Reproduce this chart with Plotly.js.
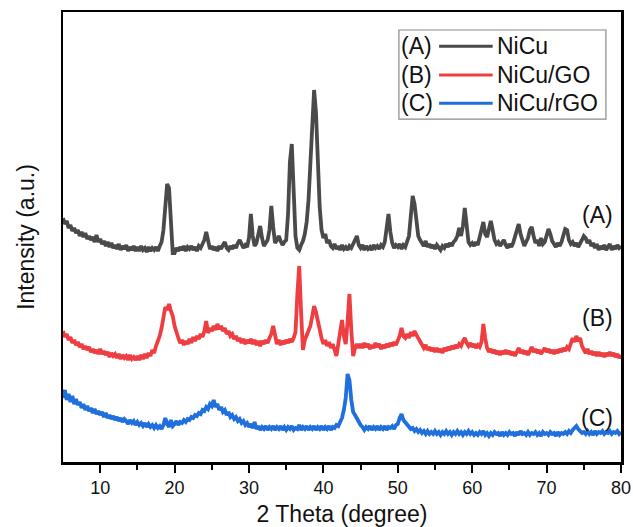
<!DOCTYPE html>
<html>
<head>
<meta charset="utf-8">
<script src="https://cdn.plot.ly/plotly-3.0.1.min.js"></script>
<style>html,body{margin:0;padding:0;background:#fff}#chart{width:633px;height:527px}</style>
</head>
<body>
<div id="chart"></div>
<script>
// 2-theta scan: 5 to 80 degrees, step 0.25 (301 points)
const THETA_START = 5;
const THETA_STEP = 0.25;

const seriesNames = ["NiCu", "NiCu/GO", "NiCu/rGO"];
const seriesTags = ["(A)", "(B)", "(C)"];

// Intensity (arbitrary units, stacked offsets included)
const nicu = [
244,238,241,234,237,231,234,229,232,226,230,225,229,223,226,222,225,220,227,220,
223,218,221,216,220,215,219,214,217,213,218,212,216,213,217,211,215,212,216,211,
215,211,216,212,214,210,215,211,214,212,215,211,216,220,232,252,278,274,240,209,
209,214,211,215,212,216,211,215,213,216,212,215,211,216,214,218,222,230,219,213,
216,212,215,211,216,213,217,220,214,212,216,213,217,214,219,222,218,214,217,215,
224,248,226,216,219,228,236,224,216,219,222,232,256,235,219,222,226,221,217,220,
222,248,300,318,258,226,214,212,217,221,228,240,262,300,345,372,350,295,255,232,
224,228,219,222,216,214,218,213,216,212,217,213,215,212,216,214,218,222,226,217,
214,217,212,216,213,215,212,217,214,216,213,217,215,220,232,248,230,219,214,217,
215,218,213,217,215,220,226,246,266,258,238,226,222,219,216,221,215,218,214,217,
213,217,215,212,216,214,218,215,219,216,220,222,226,234,226,236,254,234,220,217,
219,216,220,217,224,234,240,228,225,233,241,232,222,218,220,216,219,222,217,214,
218,215,219,226,234,238,228,220,216,220,224,232,235,226,219,222,216,224,218,220,
226,233,228,221,218,215,219,216,220,226,233,232,222,218,220,216,219,215,218,222,
226,224,219,222,216,219,214,218,212,216,213,217,212,215,218,212,216,213,217,214,
216
];

const nicuGO = [
131,125,128,122,125,119,122,117,120,115,118,113,116,112,115,110,113,109,112,108,
113,108,111,107,110,105,109,106,108,104,108,103,107,104,106,102,107,103,105,102,
106,102,107,103,108,104,109,106,112,109,116,120,126,134,146,155,152,158,151,146,
136,128,124,119,122,117,121,118,123,119,125,121,126,123,128,125,131,141,129,134,
131,136,132,138,133,136,131,134,128,131,126,128,123,126,121,124,119,123,118,122,
119,123,118,122,117,121,116,121,118,122,119,124,128,136,124,118,122,117,121,118,
122,119,123,120,124,130,168,196,150,112,122,126,130,136,146,156,150,140,130,124,
118,122,116,120,114,118,112,106,118,128,142,126,118,140,168,132,106,114,118,114,
118,114,119,115,118,113,117,114,119,115,118,113,117,114,118,115,119,116,120,117,
121,126,134,126,124,128,124,130,126,131,127,124,120,117,114,117,112,115,111,114,
110,114,110,113,109,114,111,115,112,116,113,117,114,118,116,121,124,119,116,119,
115,118,114,117,115,120,138,124,114,110,113,109,112,108,111,107,111,108,112,108,
111,107,110,106,110,114,109,112,108,111,107,112,115,110,113,109,112,108,111,114,
110,113,109,112,108,112,109,113,110,114,111,115,113,118,124,120,126,121,124,116,
112,109,113,108,111,107,110,106,110,106,109,105,109,106,110,106,109,105,108,104,
107
];

const nicuRGO = [
64,72,62,68,60,66,58,63,57,60,54,58,52,56,51,54,49,53,48,51,
47,50,45,49,44,47,43,46,42,45,41,44,40,43,41,38,42,39,41,37,
40,37,39,36,39,35,38,35,37,34,37,34,36,33,37,44,38,35,42,36,
38,41,37,40,39,42,40,43,42,45,44,47,46,49,48,52,51,55,53,58,
56,62,55,58,52,55,50,52,47,50,45,47,43,45,41,43,39,41,37,39,
35,38,34,40,33,36,32,35,33,36,32,35,33,36,32,35,33,36,32,35,
32,35,33,36,32,34,33,37,32,35,33,36,32,35,33,36,32,35,33,36,
32,35,33,36,32,35,34,37,36,40,44,52,64,88,82,62,50,47,43,40,
37,35,32,35,33,36,32,35,33,36,32,35,33,36,32,35,34,36,33,37,
38,44,48,42,40,37,35,33,34,31,33,30,32,29,31,28,31,28,30,28,
31,28,30,27,30,28,31,28,30,27,30,28,31,28,30,27,30,28,31,28,
30,27,29,27,30,28,31,27,29,26,29,27,30,28,29,26,30,27,29,27,
30,28,29,26,30,27,31,28,29,27,30,27,29,28,30,27,29,26,30,28,
29,27,30,28,29,26,30,27,29,28,30,28,31,29,32,34,36,33,31,29,
30,28,31,28,30,27,31,28,30,29,31,28,30,29,31,28,30,29,31,28,
30
];

const seriesValues = [nicu, nicuGO, nicuRGO];
const seriesColors = ["#4a4a4a", "#ef3e42", "#1f6fdc"];

const xTickVals = [10, 20, 30, 40, 50, 60, 70, 80];
const xTickText = ["10", "20", "30", "40", "50", "60", "70", "80"];

function thetaAxis(n) {
  const xs = [];
  for (let i = 0; i < n; i++) xs.push(THETA_START + i * THETA_STEP);
  return xs;
}

const traces = seriesValues.map((vals, k) => ({
  type: "scatter",
  mode: "lines",
  x: thetaAxis(vals.length),
  y: vals,
  name: seriesNames[k],
  line: {color: seriesColors[k], width: 3.8},
  showlegend: false,
  hoverinfo: "skip"
}));

const fontFam = "Liberation Sans, Arial, sans-serif";

// custom legend (tag, line sample, name)
const legRowsY = [0.924, 0.86, 0.797];
const shapes = [{
  type: "rect", xref: "paper", yref: "paper",
  x0: 0.602, x1: 0.973, y0: 0.762, y1: 0.96,
  line: {color: "#8a8a8a", width: 1.2}, fillcolor: "rgba(255,255,255,0)"
}];
const annotations = [];
seriesNames.forEach((nm, k) => {
  shapes.push({
    type: "line", xref: "paper", yref: "paper",
    x0: 0.674, x1: 0.77, y0: legRowsY[k], y1: legRowsY[k],
    line: {color: seriesColors[k], width: 3}
  });
  annotations.push({
    xref: "paper", yref: "paper", x: 0.603, y: legRowsY[k],
    xanchor: "left", yanchor: "middle", showarrow: false,
    text: seriesTags[k], font: {family: fontFam, size: 23, color: "#111"}
  });
  annotations.push({
    xref: "paper", yref: "paper", x: 0.775, y: legRowsY[k],
    xanchor: "left", yanchor: "middle", showarrow: false,
    text: nm, font: {family: fontFam, size: 23, color: "#111"}
  });
});
// curve tags
const tagY = [0.549, 0.32, 0.097];
seriesTags.forEach((t, k) => {
  annotations.push({
    xref: "paper", yref: "paper", x: 0.957, y: tagY[k],
    xanchor: "center", yanchor: "middle", showarrow: false,
    text: t, font: {family: fontFam, size: 23, color: "#111"}
  });
});

const layout = {
  width: 633, height: 527,
  margin: {l: 63, r: 12, t: 12, b: 65},
  paper_bgcolor: "#fff", plot_bgcolor: "#fff",
  showlegend: false,
  xaxis: {
    range: [5, 80],
    tickvals: xTickVals, ticktext: xTickText,
    ticks: "outside", ticklen: 8, tickwidth: 2, tickcolor: "#000",
    minor: {tickvals: [15, 25, 35, 45, 55, 65, 75], ticks: "outside", ticklen: 5, tickwidth: 2, tickcolor: "#000"},
    showline: true, linewidth: 2.5, linecolor: "#000", mirror: true,
    showgrid: false, zeroline: false,
    tickfont: {family: fontFam, size: 18, color: "#111"},
    title: {text: "2 Theta (degree)", font: {family: fontFam, size: 23, color: "#111"}, standoff: 16}
  },
  yaxis: {
    range: [0, 450],
    showticklabels: false, ticks: "",
    showline: true, linewidth: 2.5, linecolor: "#000", mirror: true,
    showgrid: false, zeroline: false,
    title: {text: "Intensity (a.u.)", font: {family: fontFam, size: 23, color: "#111"}, standoff: 20}
  },
  shapes: shapes,
  annotations: annotations
};

Plotly.newPlot("chart", traces, layout, {staticPlot: true, displayModeBar: false});
</script>
</body>
</html>
